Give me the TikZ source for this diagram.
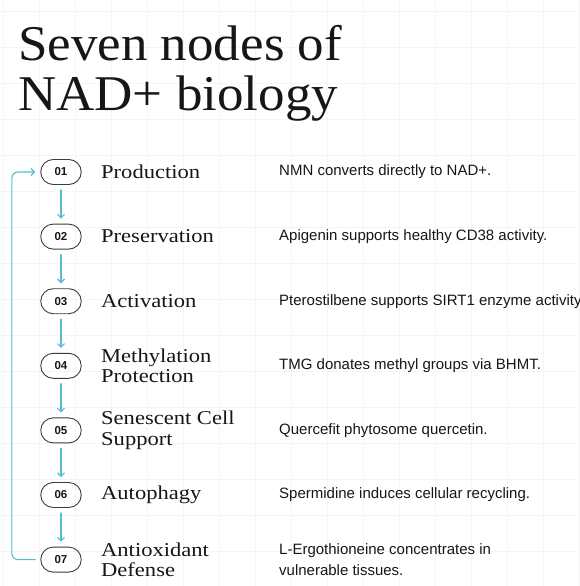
\documentclass[tikz,border=0pt]{standalone}
\usepackage{fontspec}
\setmainfont{Liberation Serif}
\newfontfamily\headfont{Liberation Serif}[FakeStretch=1.06]
\newfontfamily\stepfont{Liberation Serif}[FakeStretch=1.15]
\newfontfamily\bodyfont{Liberation Sans}
\usetikzlibrary{arrows.meta}
\definecolor{loopcyan}{RGB}{84,190,205}
\definecolor{pillgray}{RGB}{60,60,60}
\definecolor{inkblack}{RGB}{22,22,22}

\begin{document}
\begin{tikzpicture}[x=1pt,y=-1pt,line cap=round,line join=round,
  gridline/.style={draw=black!4,line width=.6pt},
  pill/.style={draw=pillgray,line width=.9pt,rounded corners=12.5pt,
    minimum width=40.5pt,minimum height=25pt,inner sep=0pt,text=inkblack,
    font=\bodyfont\bfseries\fontsize{11.5}{12}\selectfont},
  steplabel/.style={anchor=west,inner sep=0pt,align=left,text=inkblack,
    font=\stepfont\fontsize{19.6}{20.6}\selectfont},
  desc/.style={anchor=west,inner sep=0pt,align=left,text=inkblack,
    font=\bodyfont\fontsize{15}{21}\selectfont},
  flow/.style={draw=loopcyan,line width=1.1pt,
    -{Straight Barb[length=3.5pt,width=7pt]}}]

\useasboundingbox (0,0) rectangle (580,586);
\clip (0,0) rectangle (580,586);

% faint background grid
\foreach \x in {3.5,39.5,...,580}
  \draw[gridline] (\x,0)--(\x,586);
\foreach \y in {11.7,47.7,...,586}
  \draw[gridline] (0,\y)--(580,\y);

\node[anchor=base west,inner sep=0pt,align=left,text=inkblack,
  font=\headfont\fontsize{50}{49}\selectfont] (title) at (18,110)
  {Seven nodes of\\NAD+ biology};

% the seven steps
\foreach \i/\name/\txt in {
  1/Production/{NMN converts directly to NAD+.},
  2/Preservation/{Apigenin supports healthy CD38 activity.},
  3/Activation/{Pterostilbene supports SIRT1 enzyme activity.},
  4/{Methylation\\Protection}/{TMG donates methyl groups via BHMT.},
  5/{Senescent Cell\\Support}/{Quercefit phytosome quercetin.},
  6/Autophagy/{Spermidine induces cellular recycling.},
  7/{Antioxidant\\Defense}/{L-Ergothioneine concentrates in\\vulnerable tissues.}}
{
  \pgfmathsetmacro{\yy}{172+(\i-1)*64.6}
  \node[pill] (p\i) at (61,\yy) {0\i};
  \node[steplabel] (s\i) at (101,\yy) {\name};
  \node[desc] (d\i) at (279,\yy) {\txt};
}

% arrows down the chain
\foreach \i [evaluate=\i as \j using int(\i+1)] in {1,...,6}
  \draw[flow] ([yshift=-5pt]p\i.south) -- ([yshift=5pt]p\j.north);

% loop back from 07 to 01
\draw[flow,rounded corners=6pt] ([xshift=-5pt]p7.west)
  -- ([xshift=-28.4pt]p7.west) |- ([xshift=-5pt]p1.west);
\end{tikzpicture}
\end{document}
